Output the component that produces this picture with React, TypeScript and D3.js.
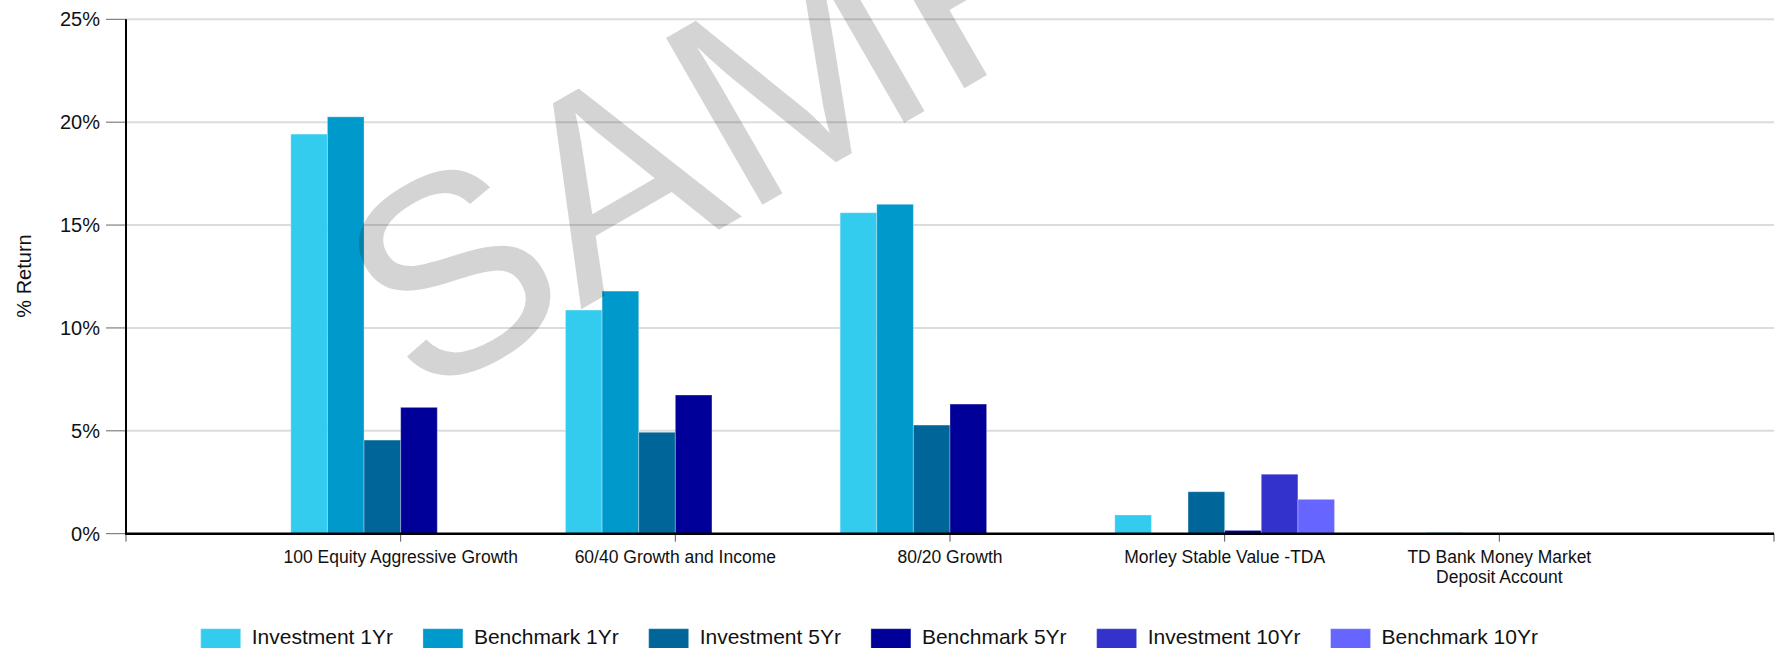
import * as d3 from "d3";
import { useEffect, useRef } from "react";

const categories = [
  "100 Equity Aggressive Growth",
  "60/40 Growth and Income",
  "80/20 Growth",
  "Morley Stable Value -TDA",
  "TD Bank Money Market\nDeposit Account",
];

const seriesNames = [
  "Investment 1Yr",
  "Benchmark 1Yr",
  "Investment 5Yr",
  "Benchmark 5Yr",
  "Investment 10Yr",
  "Benchmark 10Yr",
];
const seriesColors = ["#33ccee", "#0099cc", "#006699", "#000099", "#3333cc", "#6666ff"];

const investment1Yr = [19.42, 10.87, 15.6, 0.91, null];
const benchmark1Yr = [20.26, 11.79, 16.01, null, 0.05];
const investment5Yr = [4.55, 4.93, 5.28, 2.04, null];
const benchmark5Yr = [6.14, 6.74, 6.3, 0.16, null];
const investment10Yr = [null, null, null, 2.89, null];
const benchmark10Yr = [null, null, null, 1.67, null];

const yTicks = [0, 5, 10, 15, 20, 25];

const FONT = "'Liberation Sans', Arial, sans-serif";

export default function App() {
  const svgRef = useRef<SVGSVGElement | null>(null);

  useEffect(() => {
    document.body.style.margin = "0";
    if (!svgRef.current) return;

    const width = 1776;
    const height = 648;
    const left = 126;
    const right = 1774;
    const top = 19.3;
    const bottom = 533.7;

    const allSeries = [investment1Yr, benchmark1Yr, investment5Yr, benchmark5Yr, investment10Yr, benchmark10Yr];

    const x = d3.scalePoint<string>().domain(categories).range([left, right]).padding(1);
    const groupW = x.step() * 0.8;
    const xInner = d3.scaleBand<number>().domain(d3.range(seriesNames.length)).range([0, groupW]);
    const y = d3.scaleLinear().domain([0, 25]).range([bottom, top]);

    const svg = d3.select(svgRef.current);
    svg.selectAll("*").remove();

    // gridlines
    svg
      .append("g")
      .selectAll("line")
      .data(yTicks.filter((t) => t > 0))
      .enter()
      .append("line")
      .attr("x1", left)
      .attr("x2", right)
      .attr("y1", (d) => y(d))
      .attr("y2", (d) => y(d))
      .attr("stroke", "#dcdcdc")
      .attr("stroke-width", 2);

    // bars
    const bars = svg.append("g");
    allSeries.forEach((vals, si) => {
      bars
        .selectAll(null)
        .data(vals.map((v, ci) => ({ v, ci })).filter((d) => d.v !== null))
        .enter()
        .append("rect")
        .attr("x", (d) => (x(categories[d.ci]) as number) - groupW / 2 + (xInner(si) as number))
        .attr("width", xInner.bandwidth())
        .attr("y", (d) => y(d.v as number))
        .attr("height", (d) => bottom - y(d.v as number))
        .attr("fill", seriesColors[si])
        .attr("stroke", "rgba(255,255,255,0.3)")
        .attr("stroke-width", 1);
    });

    // y axis
    const yAxis = svg.append("g");
    yAxis
      .selectAll("line")
      .data(yTicks)
      .enter()
      .append("line")
      .attr("x1", left - 20)
      .attr("x2", left)
      .attr("y1", (d) => y(d))
      .attr("y2", (d) => y(d))
      .attr("stroke", "#666")
      .attr("stroke-width", 1);
    yAxis
      .selectAll("text")
      .data(yTicks)
      .enter()
      .append("text")
      .attr("x", 100)
      .attr("y", (d) => y(d))
      .attr("dy", "0.35em")
      .attr("text-anchor", "end")
      .attr("font-family", FONT)
      .attr("font-size", 20)
      .attr("fill", "#111")
      .text((d) => `${d}%`);
    yAxis
      .append("line")
      .attr("x1", left)
      .attr("x2", left)
      .attr("y1", top)
      .attr("y2", bottom)
      .attr("stroke", "#000")
      .attr("stroke-width", 2);

    svg
      .append("text")
      .attr("transform", `translate(24,276) rotate(-90)`)
      .attr("text-anchor", "middle")
      .attr("dy", "0.35em")
      .attr("font-family", FONT)
      .attr("font-size", 20)
      .attr("fill", "#111")
      .text("% Return");

    // x axis
    const xAxis = svg.append("g");
    const xTickPos = [left, ...categories.map((c) => x(c) as number), right];
    xAxis
      .selectAll("line")
      .data(xTickPos)
      .enter()
      .append("line")
      .attr("x1", (d) => d)
      .attr("x2", (d) => d)
      .attr("y1", bottom)
      .attr("y2", bottom + 8)
      .attr("stroke", "#555")
      .attr("stroke-width", 1);
    xAxis
      .append("line")
      .attr("x1", left - 1)
      .attr("x2", right)
      .attr("y1", bottom)
      .attr("y2", bottom)
      .attr("stroke", "#000")
      .attr("stroke-width", 2.5);

    const labels = xAxis
      .selectAll("text")
      .data(categories)
      .enter()
      .append("text")
      .attr("text-anchor", "middle")
      .attr("font-family", FONT)
      .attr("font-size", 17.5)
      .attr("fill", "#111");
    labels.each(function (d) {
      const t = d3.select(this);
      d.split("\n").forEach((line, i) => {
        t.append("tspan")
          .attr("x", x(d) as number)
          .attr("y", 563 + i * 19.5)
          .text(line);
      });
    });

    // legend
    const legend = svg.append("g");
    let lx = 200.7;
    seriesNames.forEach((name, i) => {
      legend
        .append("rect")
        .attr("x", lx)
        .attr("y", 628.7)
        .attr("width", 40)
        .attr("height", 20)
        .attr("fill", seriesColors[i])
        .attr("stroke", "rgba(255,255,255,0.3)");
      const t = legend
        .append("text")
        .attr("x", lx + 51)
        .attr("y", 644)
        .attr("font-family", FONT)
        .attr("font-size", 21)
        .attr("fill", "#111")
        .text(name);
      const w = (t.node() as SVGTextElement).getComputedTextLength();
      lx = lx + 51 + w + 30;
    });

    // watermark
    svg
      .append("text")
      .attr("transform", "translate(419,403) rotate(-30)")
      .attr("font-family", FONT)
      .attr("font-size", 280)
      .attr("fill", "#000")
      .attr("fill-opacity", 0.17)
      .text("SAMPLE");

    svg.attr("width", width).attr("height", height);
  }, []);

  return <svg ref={svgRef} width={1776} height={648} style={{ display: "block" }} />;
}
